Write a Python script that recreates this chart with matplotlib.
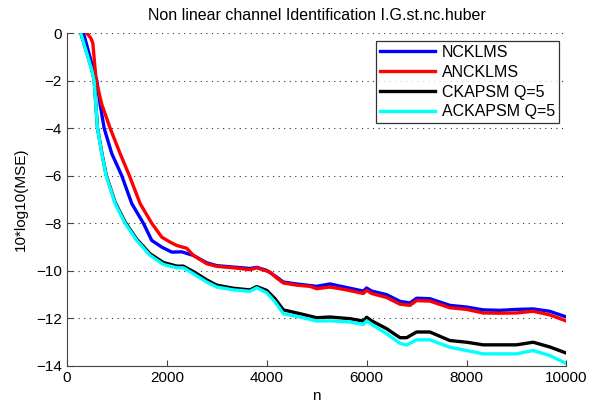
import matplotlib
matplotlib.use("Agg")
import matplotlib.pyplot as plt

plt.rcParams['font.family'] = ['Liberation Sans', 'DejaVu Sans']

title = "Non linear channel Identification I.G.st.nc.huber"
xlabel = "n"
ylabel = "10*log10(MSE)"
labels = ["NCKLMS", "ANCKLMS", "CKAPSM Q=5", "ACKAPSM Q=5"]
colors = ["#0000ff", "#ff0000", "#000000", "#00ffff"]

# NCKLMS
n_blue = [333, 533, 600, 667, 747, 900, 1100, 1300, 1533, 1700, 1900, 2100, 2300, 2533,
          2800, 3000, 3333, 3666, 3800, 4000, 4200, 4333, 4600, 5000, 5267, 5600, 5933,
          6000, 6100, 6400, 6667, 6866, 7000, 7266, 7666, 8000, 8333, 8666, 9000, 9333,
          9666, 10000]
y_blue = [0.0, -1.55, -2.0, -3.0, -4.0, -5.07, -6.0, -7.17, -8.0, -8.72, -9.0, -9.21, -9.2,
          -9.35, -9.66, -9.78, -9.84, -9.9, -9.85, -9.98, -10.26, -10.47, -10.55, -10.65,
          -10.55, -10.7, -10.85, -10.72, -10.85, -11.0, -11.28, -11.35, -11.15, -11.17,
          -11.45, -11.52, -11.64, -11.66, -11.62, -11.6, -11.7, -11.94]

# ANCKLMS
n_red = [400, 480, 520, 587, 700, 867, 1067, 1253, 1467, 1700, 1900, 2066, 2200, 2400,
         2533, 2800, 3000, 3333, 3666, 3800, 4066, 4200, 4333, 4600, 4866, 5000, 5267,
         5600, 5933, 6000, 6100, 6400, 6667, 6866, 7000, 7266, 7666, 8000, 8333, 8666,
         9000, 9333, 9666, 10000]
y_red = [0.0, -0.21, -0.42, -2.0, -3.0, -4.0, -5.07, -6.0, -7.17, -8.0, -8.58, -8.79, -8.93,
         -9.05, -9.35, -9.7, -9.81, -9.87, -9.95, -9.87, -10.05, -10.3, -10.51, -10.6,
         -10.65, -10.75, -10.68, -10.8, -10.95, -10.82, -10.95, -11.12, -11.4, -11.45,
         -11.25, -11.27, -11.55, -11.62, -11.77, -11.78, -11.77, -11.7, -11.85, -12.11]

# CKAPSM Q=5
n_black = [280, 400, 500, 547, 580, 613, 700, 787, 967, 1167, 1400, 1666, 1933, 2200, 2333,
           2533, 2800, 3000, 3333, 3666, 3800, 4000, 4166, 4333, 4666, 5000, 5267, 5666,
           5933, 6000, 6100, 6400, 6667, 6800, 7000, 7266, 7666, 8000, 8333, 9000, 9333,
           9666, 10000]
y_black = [0.0, -0.83, -1.53, -1.98, -2.98, -3.97, -5.03, -5.96, -7.12, -7.95, -8.67,
           -9.28, -9.65, -9.8, -9.8, -10.03, -10.38, -10.6, -10.73, -10.8, -10.66, -10.82,
           -11.17, -11.64, -11.8, -11.97, -11.94, -12.01, -12.11, -11.95, -12.1, -12.43,
           -12.81, -12.81, -12.57, -12.57, -12.93, -13.0, -13.11, -13.11, -13.0, -13.2,
           -13.46]

# ACKAPSM Q=5
n_cyan = [280, 400, 500, 547, 580, 613, 700, 787, 967, 1167, 1400, 1666, 1933, 2200, 2333,
          2533, 2800, 3000, 3333, 3666, 3800, 4000, 4166, 4333, 4666, 5000, 5267, 5666,
          5933, 6000, 6100, 6400, 6667, 6800, 7000, 7266, 7666, 8000, 8333, 9000, 9333,
          9666, 10000]
y_cyan = [0.0, -0.85, -1.55, -2.0, -3.0, -4.0, -5.07, -6.0, -7.17, -8.0, -8.72, -9.35,
          -9.73, -9.87, -9.87, -10.12, -10.47, -10.68, -10.8, -10.86, -10.71, -10.92,
          -11.3, -11.8, -11.94, -12.11, -12.1, -12.15, -12.25, -12.1, -12.25, -12.64,
          -13.05, -13.12, -12.9, -12.9, -13.21, -13.35, -13.49, -13.49, -13.35, -13.56,
          -13.9]

xticks = [0, 2000, 4000, 6000, 8000, 10000]
yticks = [0, -2, -4, -6, -8, -10, -12, -14]

fig = plt.figure(figsize=(6.02, 4.05), dpi=100)
ax = fig.add_axes([0.111, 0.0963, 0.830, 0.822])

series = [(n_blue, y_blue), (n_red, y_red), (n_black, y_black), (n_cyan, y_cyan)]
for (xs, ys), c, lab in zip(series, colors, labels):
    ax.plot(xs, ys, color=c, lw=2.4, label=lab)

ax.set_xlim(0, 10000)
ax.set_ylim(-14, 0)
ax.set_xticks(xticks)
ax.set_yticks(yticks)
ax.yaxis.grid(True, linestyle=(0, (1, 4)), color='#333333', lw=0.8)
ax.spines['top'].set_visible(False)
ax.spines['right'].set_visible(False)
ax.tick_params(direction='in', labelsize=11, length=4, color='#444444')
ax.spines['left'].set_color('#444444')
ax.spines['bottom'].set_color('#444444')
ax.set_title(title, fontsize=11.5, pad=9.5)
ax.set_xlabel(xlabel, fontsize=11, labelpad=3)
ax.set_ylabel(ylabel, fontsize=11, labelpad=6)

leg = ax.legend(loc='upper right', bbox_to_anchor=(0.985, 0.976), borderaxespad=0,
                fontsize=11.5, frameon=True, fancybox=False, edgecolor='black',
                handlelength=3.4, borderpad=0.25, labelspacing=0.3, handletextpad=0.45)
leg.get_frame().set_linewidth(0.9)

fig.savefig("out.png", dpi=100)
